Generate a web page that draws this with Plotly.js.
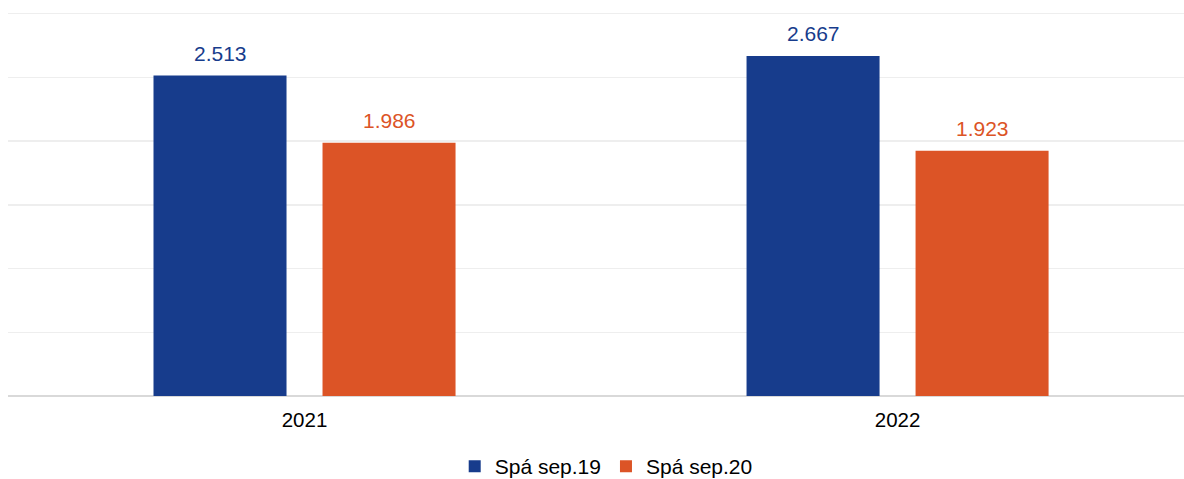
<!DOCTYPE html>
<html>
<head>
<meta charset="utf-8">
<script src="https://cdn.plot.ly/plotly-3.0.1.min.js"></script>
<style>html,body{margin:0;padding:0;background:#fff;}#chart{width:1184px;height:479px;}</style>
</head>
<body>
<div id="chart"></div>
<script>
const categories = ["2021", "2022"];
const seriesNames = ["Spá sep.19", "Spá sep.20"];
const seriesValues = [
  [2.513, 2.667],
  [1.986, 1.923]
];
const seriesColors = ["#173c8c", "#dc5426"];
const valueLabels = [
  ["2.513", "2.667"],
  ["1.986", "1.923"]
];

const FONT = "Liberation Sans, Arial, Helvetica, sans-serif";
const bargap = 0.43;
const bargroupgap = 0.213;

const traces = seriesNames.map((name, k) => ({
  type: "bar",
  name: name,
  x: categories,
  y: seriesValues[k],
  marker: { color: seriesColors[k] },
  hoverinfo: "none"
}));

const n = seriesNames.length;
const slot = (1 - bargap) / n;
const annotations = [];
seriesValues.forEach((vals, k) => {
  vals.forEach((v, i) => {
    annotations.push({
      x: i + (k - (n - 1) / 2) * slot,
      y: v,
      xref: "x", yref: "y",
      text: valueLabels[k][i],
      showarrow: false,
      yanchor: "bottom",
      yshift: 9,
      font: { family: FONT, size: 21, color: seriesColors[k] }
    });
  });
});

const layout = {
  width: 1184,
  height: 479,
  margin: { l: 8, r: 0, t: 12, b: 83, autoexpand: false },
  paper_bgcolor: "#ffffff",
  plot_bgcolor: "#ffffff",
  barmode: "group",
  bargap: bargap,
  bargroupgap: bargroupgap,
  font: { family: FONT, size: 20.5, color: "#000000" },
  xaxis: {
    type: "category",
    range: [-0.5, 1.483],
    showgrid: false,
    showline: false,
    ticks: "",
    ticklabelstandoff: 9,
    automargin: false,
    tickfont: { family: FONT, size: 20.5, color: "#000000" },
    fixedrange: true
  },
  yaxis: {
    range: [0, 3.012],
    dtick: 0.5,
    showticklabels: false,
    showgrid: true,
    gridcolor: "#eeeeee",
    gridwidth: 1.5,
    zeroline: true,
    zerolinecolor: "#d9d9d9",
    zerolinewidth: 2,
    showline: false,
    ticks: "",
    automargin: false,
    fixedrange: true
  },
  showlegend: true,
  legend: {
    orientation: "h",
    xref: "container",
    yref: "container",
    x: 0.512,
    xanchor: "center",
    y: 0.026,
    yanchor: "middle",
    font: { family: FONT, size: 21, color: "#000000" },
    bgcolor: "rgba(0,0,0,0)"
  },
  annotations: annotations
};

Plotly.newPlot("chart", traces, layout, { displayModeBar: false, staticPlot: true });
</script>
</body>
</html>
